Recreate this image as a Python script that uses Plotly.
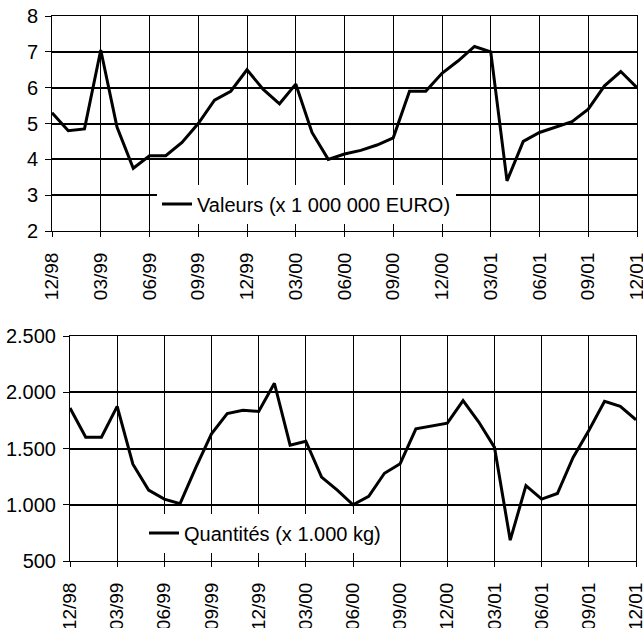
import plotly.graph_objects as go

months = ["12/98","01/99","02/99","03/99","04/99","05/99","06/99","07/99","08/99","09/99","10/99","11/99",
          "12/99","01/00","02/00","03/00","04/00","05/00","06/00","07/00","08/00","09/00","10/00","11/00",
          "12/00","01/01","02/01","03/01","04/01","05/01","06/01","07/01","08/01","09/01","10/01","11/01","12/01"]
valeurs = [5.3, 4.8, 4.85, 7.05, 4.9, 3.75, 4.1, 4.1, 4.47, 5.0, 5.65, 5.9,
           6.5, 5.95, 5.55, 6.1, 4.75, 4.0, 4.15, 4.25, 4.4, 4.6, 5.9, 5.9,
           6.4, 6.75, 7.15, 7.0, 3.4, 4.5, 4.75, 4.9, 5.05, 5.4, 6.05, 6.45, 6.0]
quantites = [1860, 1600, 1600, 1875, 1360, 1130, 1050, 1010, 1330, 1630, 1810, 1840,
             1830, 2080, 1530, 1565, 1245, 1130, 1000, 1075, 1280, 1365, 1675, 1700,
             1725, 1925, 1735, 1510, 685, 1170, 1050, 1100, 1420, 1660, 1920, 1875, 1755]
tick_labels = months[::3]
top_y_ticks = [2, 3, 4, 5, 6, 7, 8]
bot_y_ticks = [500, 1000, 1500, 2000, 2500]
bot_y_text = ["500", "1.000", "1.500", "2.000", "2.500"]

FONT = "Liberation Sans, Arial, sans-serif"
W, H = 643, 628

def px_x(v):
    return v / W

def px_y(v):
    return 1 - v / H

fig = go.Figure()
fig.add_trace(go.Scatter(x=months, y=valeurs, mode="lines", name="Valeurs (x 1 000 000 EURO)",
                         line=dict(color="black", width=3), xaxis="x", yaxis="y", legend="legend"))
fig.add_trace(go.Scatter(x=months, y=quantites, mode="lines", name="Quantités (x 1.000 kg)",
                         line=dict(color="black", width=3), xaxis="x2", yaxis="y2", legend="legend2"))

xcommon = dict(type="category", categoryorder="array", categoryarray=months,
               tickvals=tick_labels, ticktext=tick_labels, tickangle=-90,
               showgrid=True, gridcolor="black", gridwidth=1,
               showline=True, linecolor="black", linewidth=1, mirror=True,
               ticks="outside", ticklen=5, tickcolor="black", ticklabelstandoff=8,
               ticklabeloverflow="allow",
               tickfont=dict(family=FONT, size=19, color="black"),
               range=[0, 36], zeroline=False, automargin=False)
ycommon = dict(showgrid=True, gridcolor="black", gridwidth=2,
               showline=True, linecolor="black", linewidth=1, mirror=True,
               ticks="outside", ticklen=6, tickcolor="black", ticklabelstandoff=3,
               ticklabeloverflow="allow",
               tickfont=dict(family=FONT, size=20, color="black"),
               zeroline=False, automargin=False)

fig.update_layout(
    width=W, height=H,
    margin=dict(l=0, r=0, t=0, b=0),
    paper_bgcolor="white", plot_bgcolor="white",
    font=dict(family=FONT, size=19, color="black"),
    xaxis=dict(**xcommon, domain=[px_x(52), px_x(637)], anchor="y"),
    yaxis=dict(**ycommon, domain=[px_y(231), px_y(16)], range=[2, 8], tickvals=top_y_ticks, anchor="x"),
    xaxis2=dict(**xcommon, domain=[px_x(70), px_x(636)], anchor="y2"),
    yaxis2=dict(**ycommon, domain=[px_y(561), px_y(336)], range=[500, 2500],
                tickvals=bot_y_ticks, ticktext=bot_y_text, anchor="x2"),
    legend=dict(x=px_x(157), y=px_y(204), xanchor="left", yanchor="middle", bgcolor="white",
                borderwidth=0, font=dict(family=FONT, size=20, color="black")),
    legend2=dict(x=px_x(144), y=px_y(533), xanchor="left", yanchor="middle", bgcolor="white",
                 borderwidth=0, font=dict(family=FONT, size=20, color="black")),
    showlegend=True,
)

fig.write_html("out.html",
               config={"displayModeBar": False},
               post_script="document.body.style.margin='0';document.body.style.overflow='hidden';")
